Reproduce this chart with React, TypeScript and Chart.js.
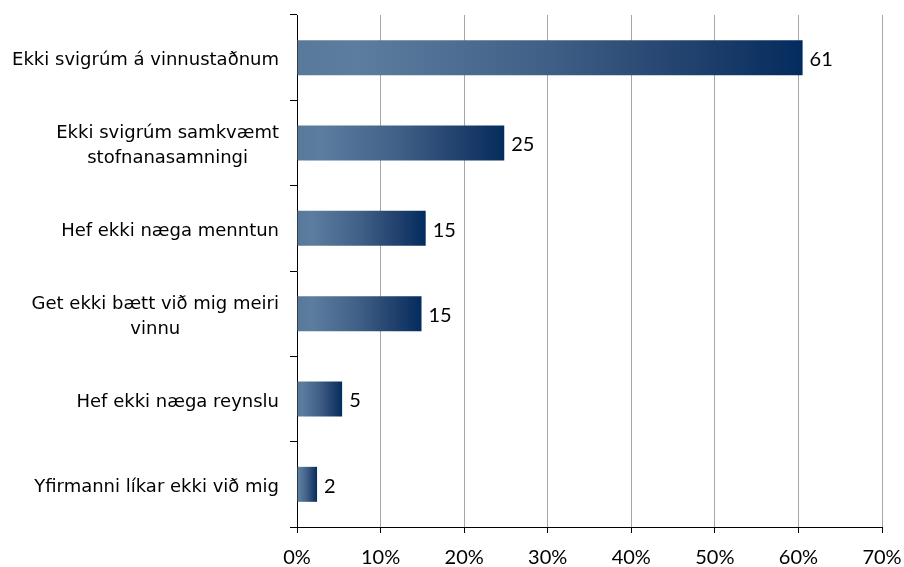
import { useEffect, useRef } from "react";
import { Chart, registerables } from "chart.js";

Chart.register(...registerables);

const categories: (string | string[])[] = [
  "Ekki svigrúm á vinnustaðnum",
  ["Ekki svigrúm samkvæmt", "stofnanasamningi"],
  "Hef ekki næga menntun",
  ["Get ekki bætt við mig meiri", "vinnu"],
  "Hef ekki næga reynslu",
  "Yfirmanni líkar ekki við mig",
];
const values = [60.5, 24.8, 15.4, 14.9, 5.4, 2.4];
const valueLabels = ["61", "25", "15", "15", "5", "2"];
const xMin = 0;
const xMax = 70;
const xStep = 10;

const LABEL_FONT = '18px "DejaVu Sans"';
const NUM_FONT = '20px Lato';

const labelsPlugin = {
  id: "customLabels",
  afterDraw(chart: any) {
    const { ctx } = chart;
    const yScale = chart.scales.y;
    const xScale = chart.scales.x;
    ctx.save();
    ctx.font = LABEL_FONT;
    ctx.fillStyle = "#000";
    ctx.textBaseline = "middle";
    ctx.textAlign = "center";
    const rightEdge = yScale.right - 18;
    const lh = 25;
    categories.forEach((c, i) => {
      const lines = Array.isArray(c) ? c : [c];
      const w = Math.max(...lines.map((l) => ctx.measureText(l).width));
      const cx = rightEdge - w / 2;
      const cy = yScale.getPixelForValue(i) + 3;
      lines.forEach((l, j) => {
        ctx.fillText(l, cx, cy + (j - (lines.length - 1) / 2) * lh);
      });
    });
    ctx.font = NUM_FONT;
    ctx.textAlign = "left";
    values.forEach((v, i) => {
      const x = xScale.getPixelForValue(v) + 7;
      const y = yScale.getPixelForValue(i) + 2;
      ctx.fillText(valueLabels[i], x, y);
    });
    ctx.restore();
  },
};

export default function App() {
  const ref = useRef<HTMLCanvasElement>(null);
  useEffect(() => {
    document.body.style.margin = "0";
    const canvas = ref.current!;
    const chart = new Chart(canvas, {
      type: "bar",
      data: {
        labels: categories.map((c) => (Array.isArray(c) ? c.join(" ") : c)),
        datasets: [
          {
            data: values,
            categoryPercentage: 0.41,
            barPercentage: 1,
            borderWidth: 0,
            backgroundColor: (ctx: any) => {
              const chart = ctx.chart;
              if (!chart.chartArea || !chart.scales.x) return "#3b5a84";
              const xs = chart.scales.x;
              const x0 = xs.getPixelForValue(0);
              const x1 = xs.getPixelForValue(values[ctx.dataIndex] ?? 0);
              if (!isFinite(x0) || !isFinite(x1) || x1 - x0 < 1) return "#3b5a84";
              const g = chart.ctx.createLinearGradient(x0, 0, x1, 0);
              g.addColorStop(0, "#587999");
              g.addColorStop(0.12, "#5c7d9f");
              g.addColorStop(0.5, "#3f5f86");
              g.addColorStop(0.8, "#1f3f6c");
              g.addColorStop(1, "#032c5e");
              return g;
            },
          },
        ],
      },
      options: {
        indexAxis: "y",
        animation: false,
        responsive: false,
        maintainAspectRatio: false,
        layout: { padding: { top: 15, right: 22, left: 0, bottom: 0 } },
        plugins: {
          legend: { display: false },
          tooltip: { enabled: false },
        },
        scales: {
          x: {
            min: xMin,
            max: xMax,
            ticks: {
              stepSize: xStep,
              callback: (v: any) => v + "%",
              color: "#000",
              font: { family: "Lato", size: 20 },
              padding: 13,
            },
            grid: {
              color: (c: any) => (c.index === 0 ? "rgba(0,0,0,0)" : "#a6a6a6"),
              tickColor: "#000",
              tickLength: 6,
              drawTicks: true,
            },
            border: { display: true, color: "#000" },
            afterFit: (s: any) => {
              s.height = 40;
              s.paddingLeft = 0;
              s.paddingRight = 0;
            },
          },
          y: {
            offset: true,
            ticks: { display: false },
            grid: {
              display: true,
              drawOnChartArea: false,
              drawTicks: true,
              tickLength: 7,
              color: "#000",
              offset: true,
            },
            border: { display: true, color: "#000" },
            afterFit: (s: any) => {
              s.width = 297;
            },
          },
        },
      },
      plugins: [labelsPlugin],
    });
    return () => chart.destroy();
  }, []);
  return (
    <div style={{ width: 904, height: 567 }}>
      <canvas ref={ref} width={904} height={567} style={{ display: "block" }} />
    </div>
  );
}
